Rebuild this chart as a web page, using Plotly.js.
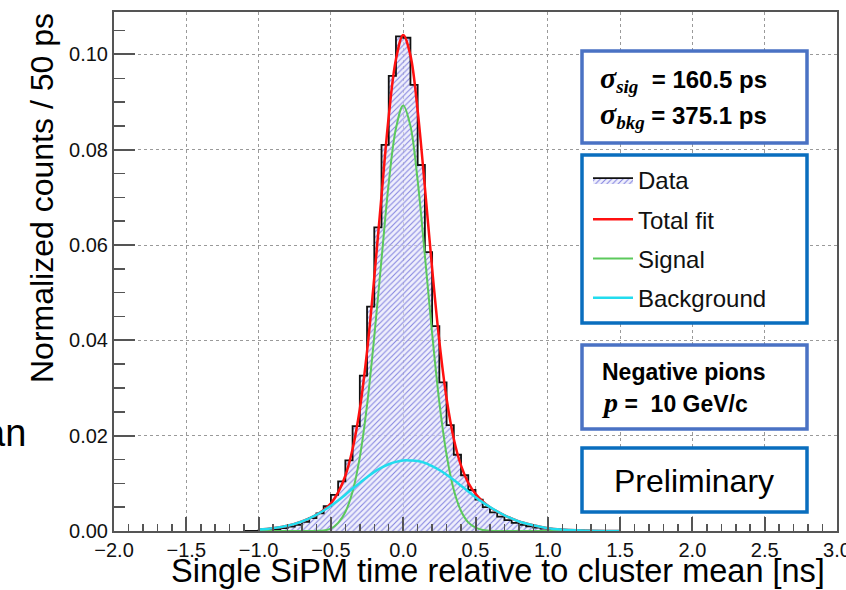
<!DOCTYPE html>
<html>
<head>
<meta charset="utf-8">
<script src="https://cdn.plot.ly/plotly-3.0.1.min.js"></script>
<style>html,body{margin:0;padding:0;background:#fff;}#chart{width:846px;height:590px;}</style>
</head>
<body>
<div id="chart"></div>
<script>
// Histogram: lower bin edges (ns), bin width 0.05 ns, and normalized counts
const binLow = [-1.10,-1.05,-1.00,-0.95,-0.90,-0.85,-0.80,-0.75,-0.70,-0.65,-0.60,-0.55,-0.50,-0.45,-0.40,-0.35,-0.30,-0.25,-0.20,-0.15,-0.10,-0.05,0.00,0.05,0.10,0.15,0.20,0.25,0.30,0.35,0.40,0.45,0.50,0.55,0.60,0.65,0.70,0.75,0.80,0.85,0.90,0.95,1.00,1.05,1.10,1.15,1.20,1.25,1.30];
const counts = [0,0,0.0002,0.0003,0.0004,0.0006,0.0009,0.0013,0.0019,0.0027,0.0037,0.0052,0.0076,0.0104,0.0148,0.0220,0.0326,0.0471,0.0637,0.0810,0.0955,0.1038,0.1035,0.0936,0.0768,0.0585,0.0430,0.0312,0.0222,0.0160,0.0117,0.0086,0.0066,0.0050,0.0039,0.0030,0.0023,0.0017,0.0013,0.0010,0.0007,0.0005,0.0004,0.0003,0.0002,0.00015,0.0001,0.00005,0];
const lastEdge = 1.35;

// Fit curves
const fitX = [-1.0,-0.9,-0.8,-0.7,-0.6,-0.55,-0.5,-0.45,-0.4,-0.35,-0.3,-0.25,-0.2,-0.15,-0.1,-0.05,0,0.05,0.1,0.15,0.2,0.25,0.3,0.35,0.4,0.45,0.5,0.55,0.6,0.7,0.8,0.9,1.0,1.1,1.2,1.3,1.4,1.5];
const totalFit = [0.0003,0.0006,0.0011,0.0020,0.0034,0.0044,0.0058,0.0081,0.0116,0.0172,0.0256,0.0377,0.0532,0.0703,0.0870,0.0990,0.1041,0.0998,0.0882,0.0721,0.0551,0.0398,0.0278,0.0193,0.0137,0.0101,0.0078,0.0062,0.0050,0.0033,0.0020,0.0012,0.0006,0.0003,0.00014,0.00006,0.00002,0.00001];
const signal = [0,0,0,0,0.00002,0.0001,0.0005,0.0017,0.0040,0.0083,0.0155,0.0264,0.0408,0.0570,0.0730,0.0845,0.0893,0.0850,0.0735,0.0578,0.0415,0.0270,0.0160,0.0086,0.0042,0.0018,0.0007,0.0002,0.00005,0,0,0,0,0,0,0,0,0];
const background = [0.0003,0.0006,0.0011,0.0020,0.0034,0.0043,0.0053,0.0064,0.0076,0.0089,0.0101,0.0113,0.0124,0.0133,0.0140,0.0145,0.0148,0.0148,0.0147,0.0143,0.0136,0.0128,0.0118,0.0107,0.0095,0.0083,0.0071,0.0060,0.0050,0.0033,0.0020,0.0012,0.0006,0.0003,0.00014,0.00006,0.00002,0.00001];

const legendNames = ["Data","Total fit","Signal","Background"];
const xTicks = [-2.0,-1.5,-1.0,-0.5,0.0,0.5,1.0,1.5,2.0,2.5,3.0];
const yTicks = [0.00,0.02,0.04,0.06,0.08,0.10];

// step outline: append closing edge
const stepX = binLow.concat([lastEdge]);
const stepY = counts.concat([counts[counts.length-1]]);

// layout geometry (pixels)
const W = 846, H = 590, L = 114, R = 837, T = 12, B = 531;
const px = x => (x - L) / (R - L);
const py = y => (B - y) / (B - T);

const traces = [
  {x: stepX, y: stepY, type: 'scatter', mode: 'lines', name: legendNames[0], legendgroup: 'a',
   line: {shape: 'hv', color: '#111', width: 1.8}, fill: 'tozeroy',
   fillpattern: {shape: '/', fgcolor: '#8686e0', bgcolor: 'rgba(228,228,250,0.6)', size: 4, solidity: 0.28}},
  {x: fitX, y: totalFit, type: 'scatter', mode: 'lines', name: legendNames[1], legendgroup: 'b',
   line: {shape: 'spline', color: '#ff1010', width: 2.5}},
  {x: fitX, y: signal, type: 'scatter', mode: 'lines', name: legendNames[2], legendgroup: 'c',
   line: {shape: 'spline', color: '#5cc95c', width: 2}},
  {x: fitX, y: background, type: 'scatter', mode: 'lines', name: legendNames[3], legendgroup: 'd',
   line: {shape: 'spline', color: '#22dcee', width: 2.5}}
];

const boxBlue1 = '#4a72c4', boxBlue2 = '#0a6ebe';
function box(x0, y0, x1, y1, col) {
  return {type: 'rect', xref: 'paper', yref: 'paper', x0: px(x0), x1: px(x1), y0: py(y1), y1: py(y0),
          line: {color: col, width: 3.5}, fillcolor: '#ffffff', layer: 'above'};
}
function ann(text, x, y, size, opts) {
  return Object.assign({text: text, xref: 'paper', yref: 'paper', x: px(x), y: py(y), showarrow: false,
    xanchor: 'left', yanchor: 'middle', font: {family: 'Liberation Sans, Arial, sans-serif', size: size, color: '#000'}}, opts || {});
}
const sig = (s) => '<span style="font-family:\'Liberation Serif\',serif;font-size:30px"><i>σ</i></span><sub><span style="font-family:\'Liberation Serif\',serif;font-size:19px"><i>' + s + '</i></span></sub>';

const layout = {
  width: W, height: H,
  margin: {l: L, r: W - R, t: T, b: H - B, pad: 0},
  paper_bgcolor: '#fff', plot_bgcolor: '#fff',
  font: {family: 'Liberation Sans, Arial, sans-serif', color: '#111'},
  showlegend: true,
  legend: {x: px(588), y: py(158), xanchor: 'left', yanchor: 'top', bgcolor: 'rgba(0,0,0,0)', borderwidth: 0,
           font: {size: 24, color: '#111'}, tracegroupgap: 5, itemwidth: 40, traceorder: 'grouped'},
  xaxis: {range: [-2, 3], tickvals: xTicks, ticktext: xTicks.map(v => (v < 0 ? '\u2212' : '') + Math.abs(v).toFixed(1)),
          ticks: 'inside', ticklen: 14, tickwidth: 2, tickcolor: '#555', ticklabeloverflow: 'allow',
          minor: {dtick: 0.1, tick0: 0, ticks: 'inside', ticklen: 7, tickwidth: 1.5, tickcolor: '#555', showgrid: false},
          showline: true, mirror: true, linecolor: '#555', linewidth: 2,
          showgrid: true, gridcolor: '#9a9a9a', griddash: 'dot', gridwidth: 1, zeroline: false,
          tickfont: {size: 20, color: '#111'}, layer: 'above traces'},
  yaxis: {range: [0, 0.1089], tickvals: yTicks, ticktext: yTicks.map(v => v.toFixed(2)),
          ticks: 'inside', ticklen: 21, tickwidth: 2, tickcolor: '#555',
          minor: {dtick: 0.005, tick0: 0, ticks: 'inside', ticklen: 11, tickwidth: 1.5, tickcolor: '#555', showgrid: false},
          showline: true, mirror: true, linecolor: '#555', linewidth: 2,
          showgrid: true, gridcolor: '#9a9a9a', griddash: 'dot', gridwidth: 1, zeroline: false,
          tickfont: {size: 20, color: '#111'}, layer: 'above traces'},
  shapes: [
    box(582, 51, 807, 143, boxBlue1),
    box(582, 155, 807, 323, boxBlue2),
    box(582, 345, 807, 429, boxBlue1),
    box(582, 448, 807, 512, boxBlue2)
  ],
  annotations: [
    ann('Normalized counts / 50 ps', 42, 198, 32, {xanchor: 'center', textangle: -90}),
    ann('Single SiPM time relative to cluster mean [ns]', 498, 571, 32.5, {xanchor: 'center'}),
    ann('an', 28, 433, 38, {xanchor: 'right'}),
    ann('<b>' + sig('sig') + '  = 160.5 ps</b>', 598, 79, 24),
    ann('<b>' + sig('bkg') + ' = 375.1 ps</b>', 598, 115, 24),
    ann('<b>Negative pions</b>', 600, 372, 23),
    ann('<b><span style="font-family:\'Liberation Serif\',serif;font-size:28px"><i>p</i></span> =  10 GeV/c</b>', 600, 402, 23),
    ann('Preliminary', 694, 481, 32, {xanchor: 'center'})
  ]
};

Plotly.newPlot('chart', traces, layout, {displayModeBar: false, staticPlot: true});
</script>
</body>
</html>
